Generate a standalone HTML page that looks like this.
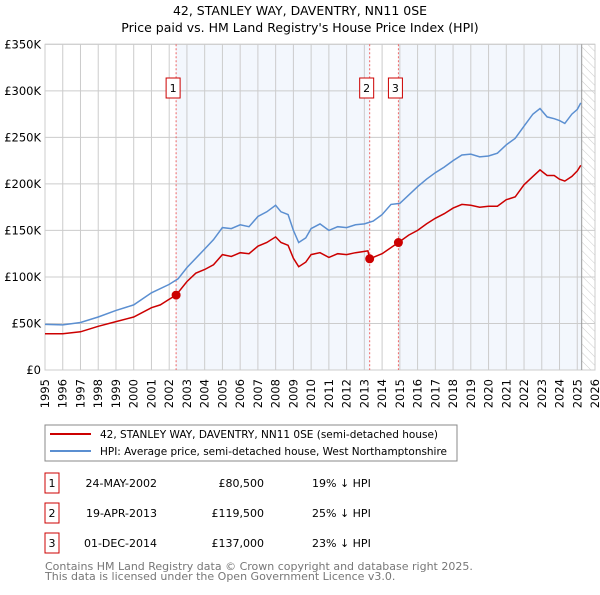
<!DOCTYPE html>
<html><head><meta charset="utf-8"><style>
body{margin:0;background:#fff}
svg text{font-family:"DejaVu Sans","Liberation Sans",sans-serif}
</style></head><body>
<svg id="c" width="600" height="590" viewBox="0 0 600 590" xmlns="http://www.w3.org/2000/svg">
<defs><pattern id="hatch" width="6" height="6" patternUnits="userSpaceOnUse" patternTransform="rotate(-45)"><line x1="0" y1="0" x2="0" y2="6" stroke="#ccc" stroke-width="1"/></pattern></defs>
<text x="300" y="15" text-anchor="middle" font-size="12.5">42, STANLEY WAY, DAVENTRY, NN11 0SE</text>
<text x="300" y="32" text-anchor="middle" font-size="12.5">Price paid vs. HM Land Registry's House Price Index (HPI)</text>
<g id="plot"></g>
<rect x="45" y="425" width="412" height="36" fill="#fff" stroke="#888"/>
<line x1="50" y1="434" x2="91" y2="434" stroke="#cc0000" stroke-width="2"/>
<text x="100" y="438" font-size="10.5" textLength="338" lengthAdjust="spacingAndGlyphs">42, STANLEY WAY, DAVENTRY, NN11 0SE (semi-detached house)</text>
<line x1="50" y1="451" x2="91" y2="451" stroke="#5b8fd1" stroke-width="2"/>
<text x="100" y="455" font-size="10.5" textLength="347" lengthAdjust="spacingAndGlyphs">HPI: Average price, semi-detached house, West Northamptonshire</text>
<g id="tbl"></g>
<text x="45" y="570" font-size="11" fill="#777">Contains HM Land Registry data © Crown copyright and database right 2025.</text>
<text x="45" y="580" font-size="11" fill="#777">This data is licensed under the Open Government Licence v3.0.</text>
</svg>
<script>
const hpiYears=[1995,1996,1997,1998,1999,2000,2001,2002,2002.5,2003,2004,2004.5,2005,2005.5,2006,2006.5,2007,2007.5,2008,2008.3,2008.7,2009,2009.3,2009.7,2010,2010.5,2011,2011.5,2012,2012.5,2013,2013.5,2014,2014.5,2015,2015.5,2016,2016.5,2017,2017.5,2018,2018.5,2019,2019.5,2020,2020.5,2021,2021.5,2022,2022.5,2022.9,2023.3,2023.7,2024,2024.3,2024.7,2025,2025.2];
const hpiValues=[49,48.5,51,57,64,70,83,92,98,110,130,140,153,152,156,154,165,170,177,170,167,150,137,142,152,157,150,154,153,156,157,160,167,178,179,188,197,205,212,218,225,231,232,229,230,233,242,249,262,275,281,272,270,268,265,275,280,287];
const priceYears=[1995,1996,1997,1998,1999,2000,2001,2001.5,2002,2002.39,2003,2003.5,2004,2004.5,2005,2005.5,2006,2006.5,2007,2007.5,2008,2008.3,2008.7,2009,2009.3,2009.7,2010,2010.5,2011,2011.5,2012,2012.5,2013.2,2013.3,2014,2014.92,2015.5,2016,2016.5,2017,2017.5,2018,2018.5,2019,2019.5,2020,2020.5,2021,2021.5,2022,2022.5,2022.9,2023.3,2023.7,2024,2024.3,2024.7,2025,2025.2];
const priceValues=[39,39,41,47,52,57,67,70,76,80.5,95,104,108,113,124,122,126,125,133,137,143,137,134,120,111,116,124,126,121,125,124,126,128,119.5,125,137,145,150,157,163,168,174,178,177,175,176,176,183,186,199,208,215,209,209,205,203,208,214,220];
const saleYears=[2002.39,2013.3,2014.92];
const saleValues=[80.5,119.5,137];
const saleLabels=["1","2","3"];
const saleDates=["24-MAY-2002","19-APR-2013","01-DEC-2014"];
const salePrices=["£80,500","£119,500","£137,000"];
const salePcts=["19% ↓ HPI","25% ↓ HPI","23% ↓ HPI"];
const yTicks=[0,50,100,150,200,250,300,350];
const yTickLabels=["£0","£50K","£100K","£150K","£200K","£250K","£300K","£350K"];
const xTicks=[1995,1996,1997,1998,1999,2000,2001,2002,2003,2004,2005,2006,2007,2008,2009,2010,2011,2012,2013,2014,2015,2016,2017,2018,2019,2020,2021,2022,2023,2024,2025,2026];
const dataEnd=2025.25;

const X0=45,X1=595,Y0=370,Y1=44.3;
const x=v=>X0+(v-1995)/(2026-1995)*(X1-X0);
const y=v=>Y0-v/350*(Y0-Y1);
const NS="http://www.w3.org/2000/svg";
const g=document.getElementById('plot');
function mk(tag,attrs,parent){const e=document.createElementNS(NS,tag);for(const k in attrs)e.setAttribute(k,attrs[k]);(parent||g).appendChild(e);return e;}

let e;
e=mk('rect',{x:x(saleYears[0]),y:Y1,width:x(saleYears[1])-x(saleYears[0]),height:Y0-Y1,fill:'#eef3fc',opacity:0.7});


e=mk('rect',{x:x(saleYears[2]),y:Y1,width:x(dataEnd)-x(saleYears[2]),height:Y0-Y1,fill:'#eef3fc',opacity:0.7});


e=mk('rect',{x:x(dataEnd),y:Y1,width:X1-x(dataEnd),height:Y0-Y1,fill:'url(#hatch)'});


yTicks.forEach((t,i)=>{
 e=mk('line',{x1:X0,x2:X1,y1:y(t),y2:y(t),stroke:'#ccc'});
 
 
 e=mk('text',{x:X0-4,y:y(t)+4,'text-anchor':'end','font-size':'11.5'});
 e.textContent=yTickLabels[i];
 
 
});
xTicks.forEach(t=>{
 e=mk('line',{x1:x(t),x2:x(t),y1:Y1,y2:Y0,stroke:'#ccc'});
 
 
 e=mk('text',{x:0,y:0,'text-anchor':'end','font-size':'11.5',transform:`translate(${x(t)+4},${Y0+9}) rotate(-90)`});
 e.textContent=t;
 
 
});
e=mk('rect',{x:X0,y:Y1,width:X1-X0,height:Y0-Y1,fill:'none',stroke:'#ccc'});


e=mk('line',{x1:x(dataEnd),x2:x(dataEnd),y1:Y1,y2:Y0,stroke:'#999'});


saleYears.forEach((s,i)=>{
 e=mk('line',{x1:x(s),x2:x(s),y1:Y1,y2:Y0,stroke:'#e66','stroke-dasharray':'2,2'});
 
 
});
const pts=(xs,vs)=>xs.map((v,i)=>x(v).toFixed(1)+','+y(vs[i]).toFixed(1)).join(' ');
e=mk('polyline',{points:pts(hpiYears,hpiValues),fill:'none',stroke:'#5b8fd1','stroke-width':1.5});


e=mk('polyline',{points:pts(priceYears,priceValues),fill:'none',stroke:'#cc0000','stroke-width':1.5});


saleYears.forEach((s,i)=>{
 e=mk('circle',{cx:x(s),cy:y(saleValues[i]),r:4.5,fill:'#cc0000'});
 
 
 const rx=x(s)-10;
 e=mk('rect',{x:rx,y:78,width:14,height:20,fill:'#fff',stroke:'#cc0000'});
 
 
 e=mk('text',{x:rx+7,y:92,'text-anchor':'middle','font-size':'11'});
 e.textContent=saleLabels[i];
 
 
});
const tb=document.getElementById('tbl');
saleLabels.forEach((l,i)=>{
 const ry=483+i*30;
 e=mk('rect',{x:45,y:ry-10,width:14,height:20,fill:'#fff',stroke:'#cc0000'},tb);
 
 
 e=mk('text',{x:52,y:ry+4,'text-anchor':'middle','font-size':'11'},tb);
 e.textContent=l;
 
 
 e=mk('text',{x:157,y:ry+4,'text-anchor':'end','font-size':'11'},tb);
 e.textContent=saleDates[i];
 
 
 e=mk('text',{x:264,y:ry+4,'text-anchor':'end','font-size':'11'},tb);
 e.textContent=salePrices[i];
 
 
 e=mk('text',{x:312,y:ry+4,'font-size':'11'},tb);
 e.textContent=salePcts[i];
 
 
});
</script>
</body></html>
